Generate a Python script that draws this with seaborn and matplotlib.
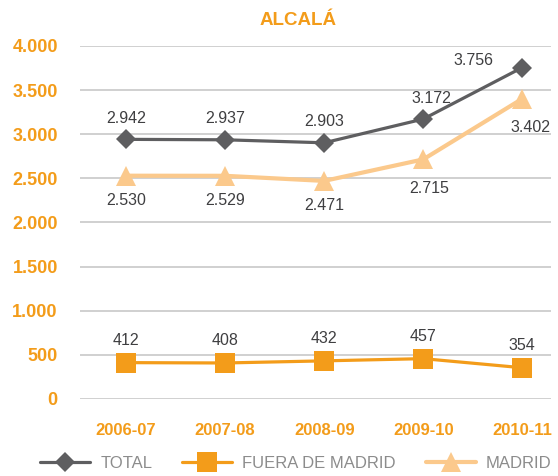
import pandas as pd
import numpy as np
import matplotlib.pyplot as plt
import seaborn as sns

# --------------------------
# Data
# --------------------------
seasons = ["2006-07", "2007-08", "2008-09", "2009-10", "2010-11"]
total = [2942, 2937, 2903, 3172, 3756]
fuera = [412, 408, 432, 457, 354]
madrid = [2530, 2529, 2471, 2715, 3402]
yticks = [0, 500, 1000, 1500, 2000, 2500, 3000, 3500, 4000]

orange = "#F39C1A"
light = "#FBC98C"
dark = "#5E5E60"
txt = "#3F3F41"

sns.set_style("white")
plt.rcParams["font.family"] = ["Liberation Sans", "DejaVu Sans"]

df = pd.DataFrame({"season": seasons, "TOTAL": total,
                   "FUERA DE MADRID": fuera, "MADRID": madrid})
df["x"] = np.arange(len(seasons))

fig = plt.figure(figsize=(5.58, 4.76), dpi=100)
ax = fig.add_axes([0.1434, 0.1618, 0.8441, 0.7416])

sns.lineplot(data=df, x="x", y="MADRID", ax=ax, color=light, linewidth=3,
             marker="^", markersize=15, markeredgewidth=0, label="MADRID", zorder=3)
sns.lineplot(data=df, x="x", y="TOTAL", ax=ax, color=dark, linewidth=2.3,
             marker="D", markersize=10, markeredgewidth=0, label="TOTAL", zorder=4)
sns.lineplot(data=df, x="x", y="FUERA DE MADRID", ax=ax, color=orange, linewidth=2.3,
             marker="s", markersize=15, markeredgewidth=0, label="FUERA DE MADRID", zorder=4)

fmt = lambda v: f"{v:,}".replace(",", ".")

# data labels (offsets in points)
total_off = [(0, 15), (0, 15), (0, 15), (6, 15), (-35, 5)]
madrid_off = [(0, -18), (0, -18), (0, -18), (4, -21), (6, -21)]
for i, v in enumerate(total):
    ax.annotate(fmt(v), (i, v), xytext=total_off[i], textcoords="offset points",
                ha="center", va="center", fontsize=11.5, color=txt)
for i, v in enumerate(madrid):
    ax.annotate(fmt(v), (i, v), xytext=madrid_off[i], textcoords="offset points",
                ha="center", va="center", fontsize=11.5, color=txt)
for i, v in enumerate(fuera):
    ax.annotate(fmt(v), (i, v), xytext=(0, 16), textcoords="offset points",
                ha="center", va="center", fontsize=11.5, color=txt)

# axes
ax.set_xlim(-0.465, 4.29)
ax.set_ylim(0, 4000)
ax.set_yticks(yticks)
ax.set_yticklabels([fmt(t) for t in yticks], fontsize=13, fontweight="bold", color=orange)
ax.set_xticks(df["x"])
ax.set_xticklabels(seasons, fontsize=12, fontweight="bold", color=orange)
ax.tick_params(axis="x", length=0, pad=17)
ax.tick_params(axis="y", length=0, pad=16)
ax.grid(axis="y", color="#C8C8C8", linewidth=1.2)
ax.set_axisbelow(True)
for s in ax.spines.values():
    s.set_visible(False)
ax.set_xlabel("")
ax.set_ylabel("")

fig.text(0.534, 0.956, "ALCALÁ", ha="center", va="center", fontsize=13.5,
         fontweight="bold", color=orange)

# legend
handles, labels = ax.get_legend_handles_labels()
order = [labels.index("TOTAL"), labels.index("FUERA DE MADRID"), labels.index("MADRID")]
ax.legend().remove()
leg = fig.legend([handles[k] for k in order], [labels[k] for k in order],
                 loc="center", bbox_to_anchor=(0.53, 0.027), ncol=3, frameon=False,
                 fontsize=12, handlelength=3.0, columnspacing=1.8, handletextpad=0.6)
for t in leg.get_texts():
    t.set_color("#8C8C8C")

plt.savefig("out.png", dpi=100)
